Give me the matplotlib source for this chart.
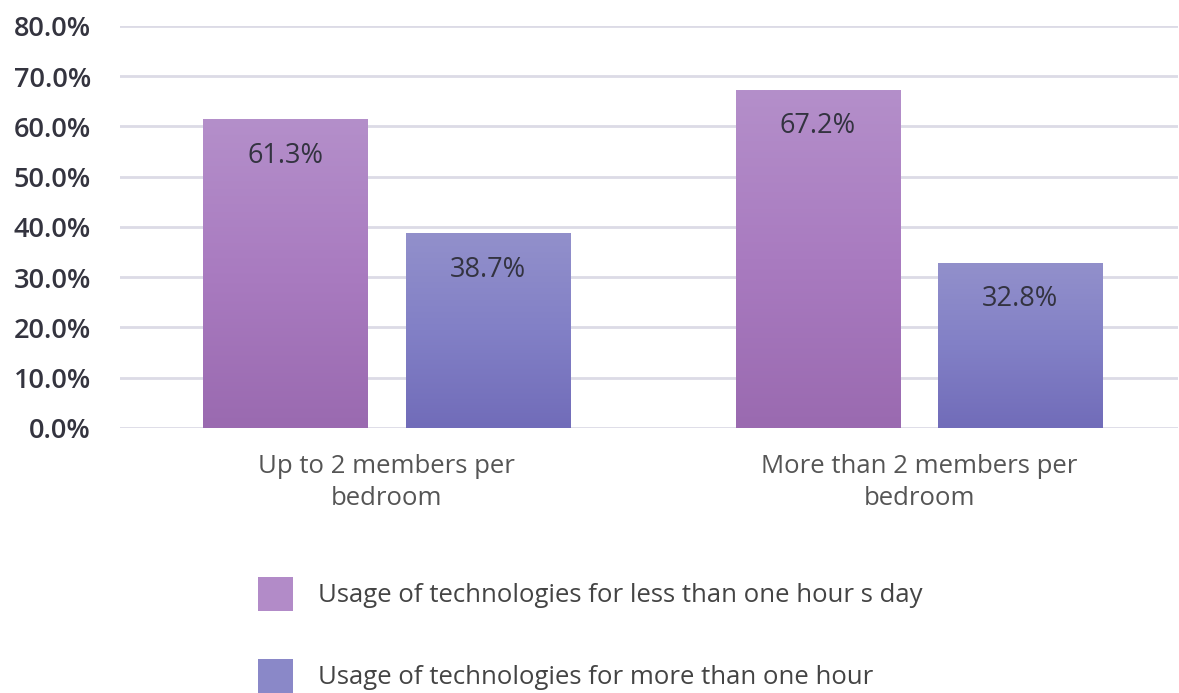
import numpy as np
import matplotlib.pyplot as plt
from matplotlib.colors import LinearSegmentedColormap
from matplotlib.patches import Patch

categories = ["Up to 2 members per\nbedroom", "More than 2 members per\nbedroom"]
less_than_hour = [61.3, 67.2]
more_than_hour = [38.7, 32.8]
series_names = ["Usage of technologies for less than one hour s day",
                "Usage of technologies for more than one hour"]
y_ticks = [0, 10, 20, 30, 40, 50, 60, 70, 80]

plt.rcParams["font.family"] = ["Open Sans", "DejaVu Sans"]

fig = plt.figure(figsize=(11.79, 6.93), dpi=100)
ax = fig.add_axes([0.1018, 0.3824, 0.897, 0.5801])

x = np.arange(len(categories))
width = 0.308
offset = 0.19

purple_cmap = LinearSegmentedColormap.from_list("p", ["#9a6ab0", "#a97bc0", "#b48fca"])
blue_cmap = LinearSegmentedColormap.from_list("b", ["#716cb9", "#8280c6", "#9290cb"])

bars1 = ax.bar(x - offset, less_than_hour, width, color="none", zorder=3)
bars2 = ax.bar(x + offset, more_than_hour, width, color="none", zorder=3)

# vertical gradient fill for each bar
grad = np.linspace(0, 1, 256).reshape(-1, 1)
for bars, cmap in [(bars1, purple_cmap), (bars2, blue_cmap)]:
    for b in bars:
        x0, w, h = b.get_x(), b.get_width(), b.get_height()
        ax.imshow(grad, cmap=cmap, origin="lower", aspect="auto",
                  extent=[x0, x0 + w, 0, h], zorder=3)

for bars, vals in [(bars1, less_than_hour), (bars2, more_than_hour)]:
    for b, v in zip(bars, vals):
        ax.text(b.get_x() + b.get_width() / 2, v - 7.2, f"{v:.1f}%",
                ha="center", va="center", fontsize=19.5, color="#333340", zorder=4)

ax.set_xlim(-0.5, 1.485)
ax.set_ylim(0, 80)
ax.set_yticks(y_ticks)
ax.set_yticklabels([f"{t:.1f}%" for t in y_ticks], fontsize=19.5,
                   fontweight="semibold", color="#34343f")
ax.set_xticks(x)
ax.set_xticklabels(categories, fontsize=18.5, color="#555555", linespacing=1.35)
ax.tick_params(axis="both", length=0)
ax.tick_params(axis="y", pad=21)
ax.tick_params(axis="x", pad=19)

ax.grid(axis="y", color="#dcdbe6", linewidth=2, zorder=0)
ax.set_axisbelow(True)
for s in ax.spines.values():
    s.set_visible(False)

handles = [Patch(facecolor="#b28bc8"), Patch(facecolor="#8a88c8")]
fig.legend(handles, series_names, loc="upper left",
           bbox_to_anchor=(0.219, 0.168), frameon=False, fontsize=18.5,
           handlelength=1.35, handleheight=1.7, handletextpad=0.97,
           labelspacing=1.85, labelcolor="#444444", borderaxespad=0,
           borderpad=0)

fig.savefig("out.png", dpi=100)
